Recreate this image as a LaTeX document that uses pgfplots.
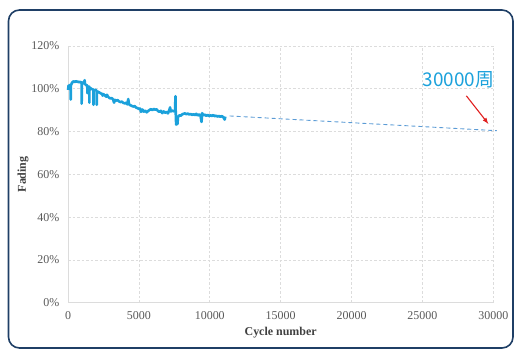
\documentclass[border=0pt]{standalone}
\usepackage{pgfplots}
\pgfplotsset{compat=1.18}
\usepackage{fontspec}
\setmainfont{Liberation Serif}
\newfontfamily\cjk{Noto Sans CJK SC}
\definecolor{series}{HTML}{1BA1DB}
\definecolor{trend}{HTML}{5B9BD5}
\definecolor{gridc}{HTML}{DCDCDC}
\definecolor{tickc}{HTML}{595959}
\definecolor{labc}{HTML}{404040}
\definecolor{frame}{HTML}{1F3F66}
\definecolor{arrowc}{HTML}{E02020}
\begin{document}
\begin{tikzpicture}
\useasboundingbox (0,0) rectangle (525bp,356bp);
\draw[frame, line width=1.6bp, rounded corners=11bp] (8.5bp,8bp) rectangle (513bp,346bp);
\begin{axis}[
  at={(68bp,53.3bp)}, anchor=south west,
  scale only axis, width=425.3bp, height=256.7bp,
  xmin=0, xmax=30000, ymin=0, ymax=120,
  xtick={0,5000,...,30000}, ytick={0,20,...,120},
  yticklabel={\pgfmathprintnumber{\tick}\%},
  scaled x ticks=false,
  xticklabel style={/pgf/number format/1000 sep={}, yshift=-3bp},
  yticklabel style={xshift=-3bp},
  /pgf/number format/assume math mode=true,
  axis x line=bottom, axis y line=left,
  axis line style={gridc, line width=0.8bp, -},
  tick style={draw=none},
  grid=major,
  major grid style={gridc, dash pattern=on 2.5bp off 2bp, line width=0.6bp},
  ticklabel style={font=\fontsize{12}{14}\selectfont, text=tickc},
  xlabel={Cycle number}, ylabel={Fading},
  label style={font=\fontsize{12}{14}\selectfont\bfseries, text=labc},
  xlabel style={yshift=-1bp},
  ylabel style={yshift=-4bp},
  clip=false,
]
\addplot[series, line width=2.6bp, line join=round] coordinates {
(0,99.5) (40,101.5) (90,100.5) (140,101.8) (190,101) (195,95) (200,101.5)
(260,102.5) (330,103.2) (400,103.5) (470,103.1) (540,103.6) (610,103.3)
(680,103.4) (760,103.0) (830,103.3) (900,102.9) (960,103.1) (965,93) (975,102.6)
(1040,102.9) (1110,102.5) (1175,104) (1190,102.4) (1260,101.8) (1360,101.5) (1365,98) (1375,101.2)
(1450,100.9) (1500,101) (1505,93.5) (1515,100.6) (1600,100.2) (1700,99.8) (1790,99.6) (1795,92.5) (1805,99.4)
(1880,99.3) (1950,99.6) (2020,98.9) (2025,92.5) (2035,98.8) (2120,98.6) (2200,98.3) (2300,97.9)
(2400,97.6) (2450,96.8) (2500,97.5) (2600,96.9) (2700,96.3) (2750,97.2) (2800,96.5) (2900,95.8) (3000,95.5) (3100,95.6)
(3190,94.9) (3250,93.5) (3300,94.8) (3400,94.5) (3500,94.7) (3600,94.1) (3700,93.8) (3800,94.0)
(3900,93.4) (4000,93.2) (4100,93.5) (4180,92.7) (4250,95.2) (4300,92.8) (4400,92.3) (4500,92.0)
(4600,91.7) (4700,91.9) (4800,91.2) (4900,91.0) (5000,90.5) (5080,90.8) (5150,89.2) (5250,90.3)
(5350,89.3) (5450,89.8) (5550,89.0) (5650,89.6) (5750,90.1) (5850,90.5) (5950,90.0) (6050,90.6)
(6150,90.2) (6250,90.4) (6350,89.6) (6450,89.2) (6550,89.7) (6650,88.6) (6750,89.4) (6850,88.8)
(6950,89.2) (7050,88.5) (7150,90.1) (7200,91.3) (7250,89.4) (7350,89.8) (7450,89.5) (7550,89.6)
(7580,96.5) (7600,88.5) (7630,83.2) (7680,86.0) (7720,83.5) (7760,86.8) (7850,87.6) (7950,87.4)
(8050,88.0) (8150,88.3) (8250,88.5) (8350,88.1) (8450,88.4) (8550,88.0) (8650,88.2) (8750,87.8)
(8850,88.1) (8950,87.7) (9050,88.3) (9150,87.5) (9250,88.0) (9350,87.4) (9420,84.5) (9460,88.6)
(9550,87.6) (9650,87.9) (9750,87.4) (9850,87.8) (9950,87.2) (10050,87.6) (10150,87.3) (10250,87.7)
(10350,87.2) (10450,87.4) (10550,87.0) (10650,87.3) (10750,86.9) (10850,87.2) (10950,86.8) (11050,85.6) (11100,87.0)
};
\addplot[trend, line width=0.9bp, dash pattern=on 4bp off 3bp] coordinates {
(11400,87.3) (30250,80.4)
};
\node[text=series, font=\cjk\fontsize{19}{21}\selectfont] at (axis cs:27535,104.3) {30000周};
\draw[arrowc, line width=1.1bp, -{latex}] (axis cs:28100,96.7) -- (axis cs:29650,83.6);
\end{axis}
\end{tikzpicture}
\end{document}
